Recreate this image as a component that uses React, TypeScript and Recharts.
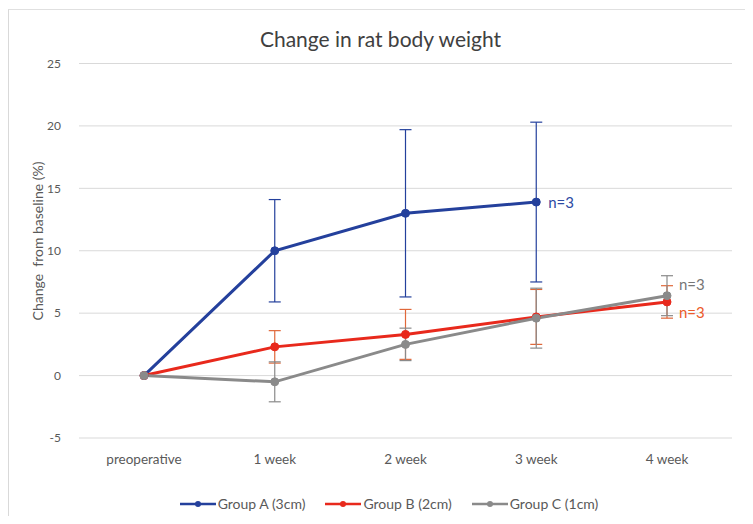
import React from 'react';
import { LineChart, Line, XAxis, YAxis, CartesianGrid, ErrorBar, Legend, LabelList, Label } from 'recharts';

const categories = ['preoperative', '1 week', '2 week', '3 week', '4 week'];
const groupA: (number | null)[] = [0, 10, 13, 13.9, null];
const groupAErr: (number | null)[] = [0, 4.1, 6.7, 6.4, null];
const groupB = [0, 2.3, 3.3, 4.7, 5.9];
const groupBErr = [0, 1.3, 2.0, 2.2, 1.3];
const groupC = [0, -0.5, 2.5, 4.6, 6.4];
const groupCErr = [0, 1.6, 1.3, 2.4, 1.6];
const yTicks = [-5, 0, 5, 10, 15, 20, 25];
const nLabelA = [null, null, null, 'n=3', null];
const nLabelB = [null, null, null, null, 'n=3'];
const nLabelC = [null, null, null, null, 'n=3'];

const BLUE = '#24409c';
const RED = '#e8291c';
const GRAY = '#8a8a8a';
const FONT = 'Lato, "Open Sans", sans-serif';

const data = categories.map((c, i) => ({
  cat: c,
  a: groupA[i],
  aErr: groupAErr[i],
  b: groupB[i],
  bErr: groupBErr[i],
  c: groupC[i],
  cErr: groupCErr[i],
  na: nLabelA[i],
  nb: nLabelB[i],
  nc: nLabelC[i],
}));

const makeLabel = (color: string, dy: number) => (props: any) => {
  const { x, y, value } = props;
  if (!value) return null;
  return (
    <text x={x + 12} y={y + dy} fill={color} fontSize={15} fontFamily={FONT} dominantBaseline="central">
      {value}
    </text>
  );
};

const legendItems = [
  { name: 'Group A (3cm)', color: BLUE },
  { name: 'Group B (2cm)', color: RED },
  { name: 'Group C (1cm)', color: GRAY },
];

const CustomLegend = () => (
  <div style={{ display: 'flex', justifyContent: 'center', gap: 20, fontFamily: FONT, fontSize: 14, color: '#595959', paddingLeft: 46 }}>
    {legendItems.map((it) => (
      <div key={it.name} style={{ display: 'flex', alignItems: 'center' }}>
        <svg width={36} height={10} style={{ marginRight: 2 }}>
          <line x1={0} y1={5} x2={36} y2={5} stroke={it.color} strokeWidth={2.5} />
          <circle cx={18} cy={5} r={3} fill={it.color} />
        </svg>
        <span>{it.name}</span>
      </div>
    ))}
  </div>
);

const YLabel = () => (
  <text
    x={37}
    y={241}
    transform="rotate(-90, 37, 241)"
    textAnchor="middle"
    dominantBaseline="central"
    fontSize={14}
    fill="#595959"
    fontFamily={FONT}
    style={{ whiteSpace: 'pre' }}
  >
    {'Change  from baseline (%)'}
  </text>
);

export default function App() {
  return (
    <div style={{ position: 'relative', width: 753, height: 524, margin: -8, background: '#fff' }}>
      <div style={{ position: 'absolute', left: 8, top: 9, right: 0, bottom: 0, borderLeft: '1px solid #d9d9d9', borderTop: '1px solid #e0e0e0' }} />
      <div style={{ position: 'absolute', left: 8, top: 26, width: 745, textAlign: 'center', fontFamily: FONT, fontSize: 21, color: '#404040' }}>
        Change in rat body weight
      </div>
      <div style={{ position: 'absolute', left: 0, top: 0 }}>
        <LineChart width={753} height={524} data={data} margin={{ top: 63.5, right: 21, left: 0, bottom: 3 }}>
          <CartesianGrid vertical={false} stroke="#d9d9d9" strokeWidth={1} />
          <XAxis
            dataKey="cat"
            axisLine={false}
            tickLine={false}
            height={57}
            tickMargin={10}
            padding={{ left: 65, right: 65 }}
            tick={{ fontSize: 13.5, fill: '#595959', fontFamily: FONT }}
            interval={0}
          />
          <YAxis
            domain={[-5, 25]}
            ticks={yTicks}
            axisLine={false}
            tickLine={false}
            width={79}
            tickMargin={12}
            tick={{ fontSize: 12, fill: '#595959', fontFamily: FONT }}
          >
            <Label content={<YLabel />} />
          </YAxis>
          <Legend verticalAlign="bottom" height={26} content={<CustomLegend />} />
          <Line
            dataKey="a"
            stroke={BLUE}
            strokeWidth={3}
            dot={{ r: 4, fill: BLUE, stroke: BLUE, strokeWidth: 1 }}
            isAnimationActive={false}
            connectNulls={false}
          >
            <ErrorBar dataKey="aErr" direction="y" width={6} stroke={BLUE} strokeWidth={1.2} />
            <LabelList dataKey="na" content={makeLabel('#2d4aa3', 0)} />
          </Line>
          <Line
            dataKey="b"
            stroke={RED}
            strokeWidth={3}
            dot={{ r: 4, fill: RED, stroke: RED, strokeWidth: 1 }}
            isAnimationActive={false}
          >
            <ErrorBar dataKey="bErr" direction="y" width={6} stroke="#e0683a" strokeWidth={1.2} />
            <LabelList dataKey="nb" content={makeLabel('#ec5a2a', 10)} />
          </Line>
          <Line
            dataKey="c"
            stroke={GRAY}
            strokeWidth={3}
            dot={{ r: 4, fill: GRAY, stroke: GRAY, strokeWidth: 1 }}
            isAnimationActive={false}
          >
            <ErrorBar dataKey="cErr" direction="y" width={6} stroke={GRAY} strokeWidth={1.2} />
            <LabelList dataKey="nc" content={makeLabel('#767676', -12)} />
          </Line>
        </LineChart>
      </div>
    </div>
  );
}
